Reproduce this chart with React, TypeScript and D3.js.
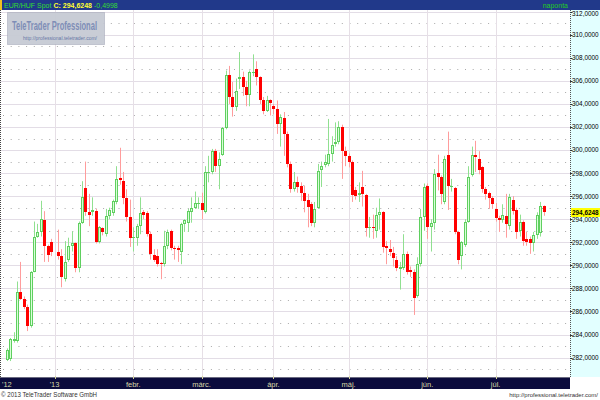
import React from 'react';
import * as d3 from 'd3';

// ---- Data ----
// One slot per weekday starting 2012-12-12; null = no quote (1 Jan)
const openP: (number | null)[] = [
  281.8, 281.9, 283.4, 283.4, 287.65, 287.1, 286.4, 284.7, 289.4, 292.5,
  292.9, 293.9, 291.7, 292.0, null, 291.2, 290.8, 288.8, 290.5, 291.7,
  291.9, 289.8, 293.7, 296.7, 294.6, 294.6, 294.7, 292.0, 293.2, 292.7,
  294.3, 294.5, 295.5, 297.6, 297.3, 295.8, 294.2, 292.4, 292.4, 293.4,
  294.6, 294.5, 292.7, 290.9, 290.8, 290.2, 290.1, 291.7, 293.0, 291.5,
  291.5, 291.2, 293.6, 293.7, 294.6, 295.0, 295.3, 295.4, 294.6, 298.0,
  298.1, 299.9, 298.6, 299.6, 301.9, 306.5, 304.6, 303.7, 306.2, 306.3,
  305.5, 304.8, 306.7, 307.0, 306.3, 304.3, 303.4, 304.3, 303.8, 303.6,
  302.3, 302.8, 301.4, 298.8, 296.6, 297.2, 296.9, 296.3, 295.7, 295.3,
  293.7, 295.0, 298.3, 298.7, 298.8, 299.7, 300.5, 300.7, 302.0, 299.9,
  299.5, 299.0, 296.5, 296.1, 296.8, 296.1, 293.2, 293.3, 293.0, 294.4,
  294.6, 291.7, 291.4, 291.1, 290.5, 289.65, 289.8, 291.0, 289.6, 289.4,
  287.3, 290.1, 294.2, 296.9, 293.3, 293.7, 298.0, 297.7, 295.5, 299.6,
  296.8, 296.7, 292.9, 290.8, 291.8, 293.8, 297.8, 299.6, 299.2, 298.5,
  296.6, 296.3, 295.8, 294.9, 294.1, 293.9, 294.3, 293.4, 295.7, 294.8,
  293.0, 293.8, 292.3, 292.3, 291.9, 292.6, 292.8, 295.12,
];
const highP: (number | null)[] = [
  282.8, 283.7, 284.2, 288.6, 290.3, 287.3, 286.6, 289.5, 293.8, 293.6,
  295.6, 294.7, 291.8, 292.3, null, 293.1, 291.4, 292.1, 292.4, 292.95,
  292.0, 293.8, 297.3, 299.0, 296.2, 295.9, 294.9, 293.4, 293.3, 294.9,
  295.0, 295.7, 298.6, 300.2, 298.1, 296.6, 295.7, 293.3, 293.6, 295.9,
  294.8, 294.7, 292.9, 291.4, 291.4, 290.3, 293.0, 293.1, 293.1, 291.7,
  291.7, 293.7, 294.0, 294.9, 295.9, 296.4, 295.9, 296.3, 298.6, 299.5,
  300.1, 300.1, 299.8, 302.0, 306.9, 307.3, 305.9, 306.2, 308.5, 306.8,
  306.0, 306.9, 308.3, 307.7, 306.4, 304.6, 304.7, 304.4, 304.0, 304.3,
  303.1, 303.3, 301.6, 299.0, 298.1, 297.7, 297.2, 296.9, 296.2, 295.5,
  295.5, 298.8, 299.0, 299.6, 302.7, 301.2, 302.4, 302.5, 302.2, 300.3,
  299.7, 299.1, 296.8, 297.2, 298.2, 296.2, 294.2, 294.4, 295.0, 295.8,
  294.7, 292.1, 292.2, 291.6, 290.8, 290.3, 292.7, 291.2, 289.9, 289.65,
  290.7, 294.9, 297.1, 297.1, 294.0, 298.35, 299.6, 297.8, 299.5, 301.6,
  297.5, 296.8, 293.0, 292.1, 294.0, 298.6, 300.3, 300.8, 299.9, 298.6,
  296.8, 296.4, 296.0, 295.4, 294.3, 295.3, 296.2, 296.2, 296.0, 295.0,
  294.4, 293.9, 292.9, 292.5, 292.9, 294.6, 295.5, 295.2,
];
const lowP: (number | null)[] = [
  281.7, 281.7, 283.3, 283.3, 287.0, 286.2, 284.3, 284.6, 289.4, 292.4,
  292.5, 290.3, 290.3, 290.8, null, 290.5, 288.1, 288.6, 290.3, 291.2,
  289.4, 289.4, 293.6, 294.3, 293.4, 294.3, 291.9, 291.9, 292.6, 292.5,
  294.0, 294.3, 295.3, 297.0, 295.3, 293.8, 291.6, 291.2, 291.7, 292.7,
  294.0, 292.5, 290.5, 290.3, 289.9, 288.8, 289.9, 291.4, 291.3, 290.5,
  290.3, 290.1, 292.9, 292.9, 293.7, 294.9, 294.9, 294.0, 294.5, 297.2,
  297.9, 298.1, 296.6, 299.5, 301.8, 304.0, 302.9, 303.4, 305.3, 304.7,
  303.8, 303.8, 306.4, 305.6, 304.0, 303.1, 303.3, 303.0, 303.1, 301.4,
  300.3, 299.5, 298.5, 296.3, 296.4, 296.3, 295.6, 294.6, 293.3, 293.4,
  293.3, 294.9, 296.8, 298.5, 298.6, 299.0, 300.3, 300.5, 297.5, 298.6,
  298.5, 295.5, 295.7, 295.5, 295.1, 292.5, 292.4, 292.3, 292.4, 293.1,
  291.1, 290.1, 290.8, 289.9, 289.5, 287.9, 289.6, 289.2, 289.0, 285.7,
  287.2, 289.9, 293.0, 292.3, 291.2, 293.1, 296.5, 295.3, 295.3, 294.8,
  296.4, 292.7, 290.1, 289.65, 291.6, 293.7, 297.7, 298.1, 297.9, 296.3,
  295.7, 294.9, 294.9, 293.8, 292.9, 293.7, 292.4, 293.1, 294.4, 292.3,
  292.5, 291.7, 291.7, 291.0, 291.2, 292.3, 292.5, 294.3,
];
const closeP: (number | null)[] = [
  282.7, 283.6, 283.6, 287.65, 287.1, 286.4, 284.7, 289.4, 292.5, 292.9,
  294.0, 291.7, 290.9, 291.2, null, 290.8, 289.0, 290.3, 291.7, 291.9,
  289.8, 293.7, 295.9, 294.6, 294.4, 294.8, 292.0, 293.3, 292.9, 294.3,
  294.8, 295.6, 297.5, 297.4, 295.8, 294.2, 292.4, 292.5, 293.4, 294.5,
  294.4, 292.7, 291.0, 290.5, 290.1, 290.1, 291.7, 292.9, 291.5, 291.4,
  291.3, 293.6, 293.9, 294.7, 295.0, 295.4, 295.4, 294.8, 298.1, 298.1,
  299.9, 298.6, 299.2, 301.9, 306.5, 304.6, 303.7, 305.1, 306.35, 305.5,
  304.8, 306.8, 306.8, 306.3, 304.3, 303.4, 304.3, 304.1, 303.6, 302.3,
  302.9, 301.4, 298.8, 296.6, 297.2, 296.8, 296.3, 295.6, 295.1, 293.7,
  294.9, 298.2, 298.6, 299.0, 299.7, 300.4, 300.7, 302.0, 299.9, 299.5,
  299.0, 296.1, 296.0, 296.3, 296.2, 293.2, 293.3, 293.2, 294.4, 294.6,
  291.6, 291.5, 291.2, 290.6, 289.8, 289.9, 291.0, 289.4, 289.4, 287.2,
  290.1, 294.2, 296.8, 293.3, 293.7, 297.9, 297.7, 296.2, 299.2, 296.9,
  296.9, 292.9, 290.5, 292.0, 293.8, 297.7, 299.6, 299.4, 298.3, 296.6,
  296.2, 295.8, 295.3, 294.1, 293.9, 294.4, 293.6, 295.9, 294.7, 292.9,
  293.8, 292.1, 292.0, 291.9, 292.6, 294.4, 295.12, 294.6248,
];

const yTickValues = [282, 284, 286, 288, 290, 292, 294, 296, 298, 300, 302, 304, 306, 308, 310, 312];
const yDotValues = [281, 283, 285, 287, 289, 291, 293, 295, 297, 299, 301, 303, 305, 307, 309, 311];
const monthLabels = ["'13", 'febr.', 'márc.', 'ápr.', 'máj.', 'jún.', 'júl.'];
const firstLabel = "'12";
const symbolName = 'EUR/HUF Spot';
const lastCloseText = 'C: 294,6248';
const changeText = '-0,4998';
const periodText = 'naponta';
const lastClose = 294.6248;

// weekday calendar for the slots
const startDate = new Date(Date.UTC(2012, 11, 12));
const slotDates: Date[] = [];
{
  const d = new Date(startDate);
  while (slotDates.length < openP.length) {
    const wd = d.getUTCDay();
    if (wd !== 0 && wd !== 6) slotDates.push(new Date(d));
    d.setUTCDate(d.getUTCDate() + 1);
  }
}

const FONT = "'Liberation Sans', Arial, sans-serif";
const fmt = (v: number) => d3.format('.4f')(v).replace('.', ',');

export default function App() {
  const W = 600;
  const H = 400;
  const plotTop = 10;
  const plotBottom = 377;
  const plotRight = 570;
  const N = openP.length;

  const x = d3.scaleLinear().domain([0, N - 1]).range([6.7, 543.5]);
  const y = d3.scaleLinear().domain([282, 312]).range([357.6, 11.7]);

  const monthSlots: number[] = [];
  for (let i = 1; i < N; i++) {
    if (slotDates[i].getUTCMonth() !== slotDates[i - 1].getUTCMonth()) monthSlots.push(i);
  }

  const upFill = '#d8ffd8';
  const upStroke = '#5fcf5f';
  const upWick = '#90e090';
  const downFill = '#ff0000';
  const downWick = '#ff9c9c';

  const closeY = y(lastClose);

  return (
    <svg
      width={W}
      height={H}
      viewBox={`0 0 ${W} ${H}`}
      style={{ position: 'fixed', left: 0, top: 0, background: '#ffffff', display: 'block' }}
      fontFamily={FONT}
    >
      <defs>
        <clipPath id="plotClip">
          <rect x={0} y={plotTop} width={plotRight} height={plotBottom - plotTop} />
        </clipPath>
      </defs>

      {/* plot background */}
      <rect x={0} y={plotTop} width={plotRight} height={plotBottom - plotTop} fill="#ffffff" />

      <g clipPath="url(#plotClip)">
        {/* solid horizontal gridlines */}
        {yTickValues.map((v) => (
          <line key={'hg' + v} x1={0} x2={plotRight} y1={Math.round(y(v)) + 0.5} y2={Math.round(y(v)) + 0.5}
            stroke="#e3dde6" strokeWidth={1} />
        ))}
        {/* dotted horizontal gridlines */}
        {yDotValues.map((v) => (
          <line key={'hd' + v} x1={3} x2={plotRight} y1={Math.round(y(v)) + 0.5} y2={Math.round(y(v)) + 0.5}
            stroke="#a9a9a9" strokeWidth={1} strokeDasharray="1 6.7" />
        ))}
        {/* vertical month gridlines */}
        {monthSlots.map((s) => (
          <line key={'vg' + s} x1={Math.round(x(s)) + 0.5} x2={Math.round(x(s)) + 0.5} y1={plotTop} y2={plotBottom}
            stroke="#e6dfe6" strokeWidth={1} />
        ))}

        {/* candles */}
        {openP.map((o, i) => {
          const c = closeP[i];
          const h = highP[i];
          const l = lowP[i];
          if (o == null || c == null || h == null || l == null) return null;
          const cx = Math.round(x(i));
          const up = c >= o;
          const top = Math.round(y(Math.max(o, c)));
          const bot = Math.round(y(Math.min(o, c)));
          return (
            <g key={'c' + i}>
              <line x1={cx + 0.5} x2={cx + 0.5} y1={y(h)} y2={y(l)} stroke={up ? upWick : downWick} strokeWidth={1} />
              {up ? (
                <rect x={cx - 0.5} y={top + 0.5} width={2} height={Math.max(bot - top - 1, 0.01)}
                  fill={upFill} stroke={upStroke} strokeWidth={1} />
              ) : (
                <rect x={cx - 1} y={top} width={3} height={Math.max(bot - top, 1)} fill={downFill} />
              )}
            </g>
          );
        })}
      </g>

      {/* left dotted border */}
      <line x1={0.5} x2={0.5} y1={plotTop} y2={plotBottom} stroke="#444" strokeWidth={1} strokeDasharray="1 1" />

      {/* logo */}
      <g>
        <rect x={7.5} y={12.5} width={97} height={32} fill="#c6cad4" fillOpacity={0.95} stroke="#9ea3b2" strokeDasharray="1 1" />
        <text x={12} y={30} fontSize={12.5} fontWeight="bold" fill="#7e8db6" textLength={85} lengthAdjust="spacingAndGlyphs">
          TeleTrader Professional
        </text>
        <text x={23} y={39.5} fontSize={6} fill="#6878a6" textLength={74} lengthAdjust="spacingAndGlyphs">
          http://professional.teletrader.com/
        </text>
      </g>

      {/* top title bar */}
      <rect x={0} y={0} width={W} height={plotTop} fill="#21398a" />
      <rect x={0} y={0} width={2} height={plotTop} fill="#f0c020" />
      <text x={4} y={8} fontSize={7}>
        <tspan fill="#33dd33">{symbolName}</tspan>
        <tspan fill="#ffff33" dx={2} fontWeight="bold">{lastCloseText}</tspan>
        <tspan fill="#33dd33" dx={2}>{changeText}</tspan>
      </text>
      <text x={568} y={8} fontSize={7} fill="#22cc22" textAnchor="end">{periodText}</text>

      {/* right axis panel */}
      <rect x={plotRight} y={plotTop} width={W - plotRight} height={plotBottom - plotTop} fill="#e2ffff" />
      <line x1={plotRight + 0.5} x2={plotRight + 0.5} y1={plotTop} y2={plotBottom} stroke="#555" strokeWidth={1} strokeDasharray="1 1" />
      {yTickValues.map((v) => (
        <g key={'yt' + v}>
          <line x1={plotRight} x2={plotRight + 2.5} y1={Math.round(y(v)) + 0.5} y2={Math.round(y(v)) + 0.5} stroke="#333" />
          <text x={572} y={Math.max(y(v) + 2.4, 16)} fontSize={6.4} fill="#000">
            {fmt(v)}
          </text>
        </g>
      ))}
      {/* last close marker */}
      <rect x={571} y={closeY - 4} width={29} height={9} fill="#ffff00" />
      <text x={572} y={closeY + 2.8} fontSize={6.4} fontWeight="bold" fill="#000">
        {fmt(lastClose)}
      </text>

      {/* bottom time axis bar */}
      <rect x={0} y={plotBottom} width={plotRight} height={12} fill="#0b0b3c" />
      <line x1={0} x2={plotRight} y1={plotBottom + 0.5} y2={plotBottom + 0.5} stroke="#6a6a80" />
      {monthSlots.map((s) => (
        <line key={'bt' + s} x1={Math.round(x(s)) + 0.5} x2={Math.round(x(s)) + 0.5} y1={plotBottom - 1} y2={plotBottom + 2}
          stroke="#d6d6a0" />
      ))}
      <text x={2} y={386.5} fontSize={7.5} fill="#d8d8a8">{firstLabel}</text>
      {monthSlots.map((s, k) => (
        <text key={'bl' + s} x={x(s)} y={386.5} fontSize={7.5} fill="#d8d8a8" textAnchor="middle">
          {monthLabels[k]}
        </text>
      ))}

      {/* footer */}
      <text x={1} y={397} fontSize={7} fill="#333" textLength={96} lengthAdjust="spacingAndGlyphs">© 2013 TeleTrader Software GmbH</text>
      <text x={598} y={397} fontSize={6} fill="#333" textAnchor="end">http://professional.teletrader.com/</text>
    </svg>
  );
}
